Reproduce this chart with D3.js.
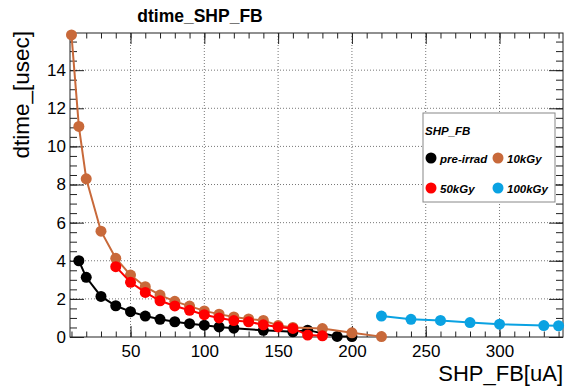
<!DOCTYPE html>
<html>
<head>
<meta charset="utf-8">
<script src="https://cdn.jsdelivr.net/npm/d3@7"></script>
<style>
  body { margin: 0; background: #fff; }
  #chart { width: 569px; height: 391px; }
  text { font-family: "Liberation Sans", Arial, sans-serif; }
</style>
</head>
<body>
<div id="chart"></div>
<script>
// data
const preX = [15, 20, 30, 40, 50, 60, 70, 80, 90, 100, 110, 120, 140, 160, 170, 190, 200];
const preY = [4.0, 3.13, 2.13, 1.64, 1.33, 1.1, 0.93, 0.8, 0.7, 0.62, 0.53, 0.46, 0.35, 0.27, 0.36, 0.03, 0.02];

const k10X = [10, 15, 20, 30, 40, 50, 60, 70, 80, 90, 100, 110, 120, 130, 140, 150, 160, 180, 200, 220];
const k10Y = [15.85, 11.05, 8.3, 5.55, 4.13, 3.25, 2.64, 2.2, 1.87, 1.62, 1.37, 1.2, 1.05, 0.95, 0.87, 0.6, 0.5, 0.44, 0.22, 0.02];

const k50X = [40, 50, 60, 70, 80, 90, 100, 110, 120, 130, 140, 150, 160, 170, 180];
const k50Y = [3.69, 2.87, 2.34, 1.9, 1.63, 1.4, 1.17, 1.0, 0.86, 0.8, 0.64, 0.53, 0.45, 0.1, 0.06];

const k100X = [220, 240, 260, 280, 300, 330, 340];
const k100Y = [1.1, 0.93, 0.87, 0.76, 0.67, 0.6, 0.59];

const seriesNames = ["pre-irrad", "10kGy", "50kGy", "100kGy"];
const seriesColors = ["#000000", "#c8693a", "#ff0000", "#0aa2e2"];

const xMajor = [50, 100, 150, 200, 250, 300];
const yMajor = [0, 2, 4, 6, 8, 10, 12, 14];

const width = 569, height = 391;
const margin = { top: 33, left: 70, right: 6, bottom: 54 };

const svg = d3.select("#chart").append("svg")
  .attr("width", width)
  .attr("height", height);

const xScale = d3.scaleLinear()
  .domain([9, 343])
  .range([margin.left, width - margin.right]);

const yScale = d3.scaleLinear()
  .domain([0, 15.95])
  .range([height - margin.bottom, margin.top]);

const x0 = margin.left, x1 = width - margin.right;
const y0 = height - margin.bottom, y1 = margin.top;

// grid
svg.append("g").selectAll("line").data(xMajor).enter().append("line")
  .attr("x1", d => xScale(d)).attr("x2", d => xScale(d))
  .attr("y1", y0).attr("y2", y1)
  .attr("stroke", "#777").attr("stroke-dasharray", "1,2");
svg.append("g").selectAll("line").data(yMajor.slice(1)).enter().append("line")
  .attr("y1", d => yScale(d)).attr("y2", d => yScale(d))
  .attr("x1", x0).attr("x2", x1)
  .attr("stroke", "#777").attr("stroke-dasharray", "1,2");

// frame
svg.append("rect")
  .attr("x", x0).attr("y", y1)
  .attr("width", x1 - x0).attr("height", y0 - y1)
  .attr("fill", "none").attr("stroke", "#222");

const xMinor = d3.range(10, 341, 10);
const yMinor = d3.range(0, 15.9, 0.5);

function tickStyle(g) {
  g.select(".domain").remove();
  g.selectAll(".tick line").attr("stroke", "#222");
}

// bottom
svg.append("g").attr("transform", `translate(0,${y0})`)
  .call(d3.axisBottom(xScale).tickValues(xMinor).tickSize(-5.5).tickFormat(""))
  .call(tickStyle);
svg.append("g").attr("transform", `translate(0,${y0})`)
  .call(d3.axisBottom(xScale).tickValues(xMajor).tickSize(-11).tickPadding(8))
  .call(tickStyle)
  .selectAll("text").attr("font-size", 17).attr("fill", "#000")
  .style("font-family", "Liberation Sans, Arial, sans-serif");
// top
svg.append("g").attr("transform", `translate(0,${y1})`)
  .call(d3.axisTop(xScale).tickValues(xMinor).tickSize(-5.5).tickFormat(""))
  .call(tickStyle);
svg.append("g").attr("transform", `translate(0,${y1})`)
  .call(d3.axisTop(xScale).tickValues(xMajor).tickSize(-11).tickFormat(""))
  .call(tickStyle);
// left
svg.append("g").attr("transform", `translate(${x0},0)`)
  .call(d3.axisLeft(yScale).tickValues(yMinor).tickSize(-7).tickFormat(""))
  .call(tickStyle);
svg.append("g").attr("transform", `translate(${x0},0)`)
  .call(d3.axisLeft(yScale).tickValues(yMajor).tickSize(-14).tickPadding(4))
  .call(tickStyle)
  .selectAll("text").attr("font-size", 17).attr("fill", "#000")
  .style("font-family", "Liberation Sans, Arial, sans-serif");
// right
svg.append("g").attr("transform", `translate(${x1},0)`)
  .call(d3.axisRight(yScale).tickValues(yMinor).tickSize(-7).tickFormat(""))
  .call(tickStyle);
svg.append("g").attr("transform", `translate(${x1},0)`)
  .call(d3.axisRight(yScale).tickValues(yMajor).tickSize(-14).tickFormat(""))
  .call(tickStyle);

// series
const line = d3.line()
  .x(d => xScale(d[0]))
  .y(d => yScale(d[1]));

const allSeries = [
  d3.zip(preX, preY),
  d3.zip(k10X, k10Y),
  d3.zip(k50X, k50Y),
  d3.zip(k100X, k100Y)
];

allSeries.forEach(function (pts, i) {
  svg.append("path")
    .datum(pts)
    .attr("d", line)
    .attr("fill", "none")
    .attr("stroke", seriesColors[i])
    .attr("stroke-width", 2);
  svg.append("g").selectAll("circle")
    .data(pts)
    .enter()
    .append("circle")
    .attr("cx", d => xScale(d[0]))
    .attr("cy", d => yScale(d[1]))
    .attr("r", 5.5)
    .attr("fill", seriesColors[i]);
});

// titles
svg.append("text")
  .attr("x", 200).attr("y", 22)
  .attr("text-anchor", "middle")
  .attr("font-size", 17.5).attr("font-weight", "bold")
  .text("dtime_SHP_FB");

svg.append("text")
  .attr("x", x1).attr("y", 381)
  .attr("text-anchor", "end")
  .attr("font-size", 22)
  .text("SHP_FB[uA]");

svg.append("text")
  .attr("transform", `translate(29,${y1 - 2}) rotate(-90)`)
  .attr("text-anchor", "end")
  .attr("font-size", 22.5)
  .text("dtime_[usec]");

// legend
const lg = svg.append("g");
lg.append("rect")
  .attr("x", 423).attr("y", 113)
  .attr("width", 132).attr("height", 89)
  .attr("fill", "#fff").attr("stroke", "#888");
lg.append("text")
  .attr("x", 425).attr("y", 135)
  .attr("font-size", 11.5).attr("font-weight", "bold").attr("font-style", "italic")
  .text("SHP_FB");

const legPos = [[431, 158], [498, 158], [431, 188], [498, 188]];
seriesNames.forEach(function (name, i) {
  lg.append("circle")
    .attr("cx", legPos[i][0]).attr("cy", legPos[i][1])
    .attr("r", 5.5).attr("fill", seriesColors[i]);
  lg.append("text")
    .attr("x", legPos[i][0] + 9).attr("y", legPos[i][1] + 4.5)
    .attr("font-size", 11.5).attr("font-weight", "bold").attr("font-style", "italic")
    .text(name);
});
</script>
</body>
</html>
